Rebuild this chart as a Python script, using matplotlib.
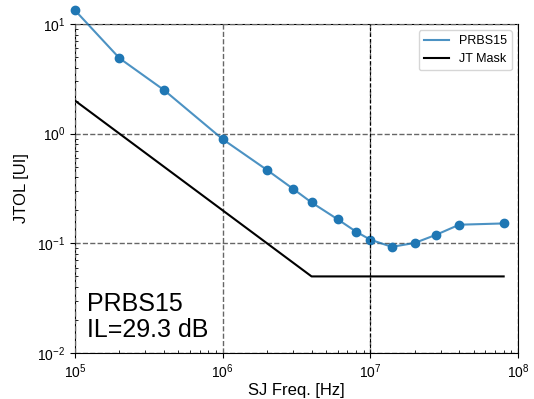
import matplotlib
matplotlib.use('Agg')
import matplotlib.pyplot as plt
import numpy as np

# jitter tolerance sweep
sj_freq = [1e5, 2e5, 4e5, 1e6, 2e6, 3e6, 4e6, 6e6, 8e6, 1e7, 1.4e7, 2e7, 2.8e7, 4e7, 8e7]
jtol_ui = [13.3, 4.87, 2.5, 0.89, 0.466, 0.314, 0.236, 0.166, 0.128, 0.108, 0.093, 0.101, 0.12, 0.148, 0.152]

# JT mask corners
mask_freq = [1e5, 4e6, 8e7]
mask_ui   = [2.0, 0.05, 0.05]

plt.rcParams['font.family'] = ['Liberation Sans', 'DejaVu Sans']
plt.rcParams['mathtext.fontset'] = 'dejavusans'

fig, ax = plt.subplots(figsize=(5.34, 3.99), dpi=100)
fig.subplots_adjust(left=0.1405, right=0.970, top=0.940, bottom=0.115)

c_blue = '#1f77b4'
ax.plot(sj_freq, jtol_ui, color=c_blue, alpha=0.8, linewidth=1.5, label='PRBS15', clip_on=False)
ax.plot(sj_freq, jtol_ui, linestyle='none', marker='o', markersize=6, color=c_blue, clip_on=False)
ax.plot(mask_freq, mask_ui, color='black', linewidth=1.5, label='JT Mask')

ax.set_xscale('log')
ax.set_yscale('log')
ax.set_xlim(1e5, 1e8)
ax.set_ylim(1e-2, 1e1)

# dashed grid sits over the frame
for s in ax.spines.values():
    s.set_zorder(1)
ax.grid(True, which='major', linestyle='--', color='#666666', linewidth=1)
ax.axvline(1e7, color='black', linestyle='--', linewidth=0.8, dashes=(3, 2))

ax.tick_params(which='major', direction='out', length=3.5, labelsize=10)
ax.tick_params(which='minor', direction='in', length=2)

ax.set_xlabel('SJ Freq. [Hz]', fontsize=12, labelpad=1)
ax.set_ylabel('JTOL [UI]', fontsize=12, labelpad=6)

ax.text(0.028, 0.035, 'PRBS15\nIL=29.3 dB', transform=ax.transAxes,
        fontsize=18, ha='left', va='bottom', linespacing=1.1)

ax.legend(loc='upper right', fontsize=9)

fig.savefig('out.png', dpi=100)
